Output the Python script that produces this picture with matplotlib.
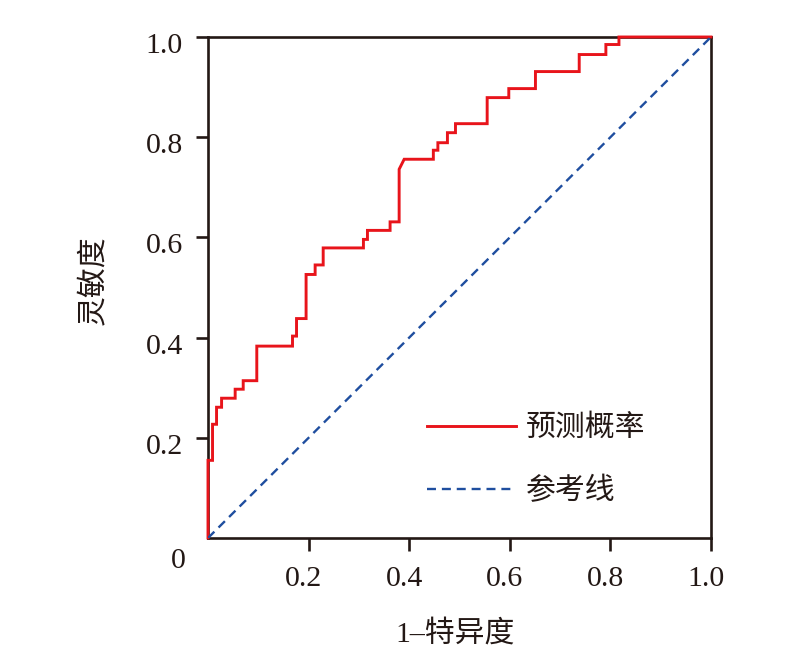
import matplotlib
matplotlib.use("Agg")
import matplotlib.pyplot as plt
import matplotlib.transforms as mtransforms

# ROC curve points (1-specificity, sensitivity)
fpr = [0.000, 0.000, 0.009, 0.009, 0.017, 0.017, 0.027, 0.027, 0.054, 0.054,
       0.070, 0.070, 0.097, 0.097, 0.168, 0.168, 0.176, 0.176, 0.195, 0.195,
       0.213, 0.213, 0.229, 0.229, 0.309, 0.309, 0.317, 0.317, 0.362, 0.362,
       0.380, 0.380, 0.390, 0.448, 0.448, 0.457, 0.457, 0.476, 0.476, 0.492,
       0.492, 0.555, 0.555, 0.598, 0.598, 0.651, 0.651, 0.738, 0.738, 0.791,
       0.791, 0.817, 0.817, 1.000]
tpr = [0.000, 0.155, 0.155, 0.227, 0.227, 0.261, 0.261, 0.279, 0.279, 0.297,
       0.297, 0.314, 0.314, 0.383, 0.383, 0.403, 0.403, 0.438, 0.438, 0.526,
       0.526, 0.545, 0.545, 0.579, 0.579, 0.596, 0.596, 0.614, 0.614, 0.631,
       0.631, 0.736, 0.756, 0.756, 0.774, 0.774, 0.789, 0.789, 0.809, 0.809,
       0.827, 0.827, 0.879, 0.879, 0.897, 0.897, 0.931, 0.931, 0.965, 0.965,
       0.985, 0.985, 1.000, 1.000]
ref_x = [0.0, 1.0]
ref_y = [0.0, 1.0]
ticks = [0.2, 0.4, 0.6, 0.8, 1.0]
tick_labels = ["0.2", "0.4", "0.6", "0.8", "1.0"]
series_names = ["预测概率", "参考线"]
x_title = "1–特异度"
y_title = "灵敏度"

serif = ["Liberation Serif", "Noto Sans CJK SC"]
cjk = ["Noto Sans CJK SC", "DejaVu Sans"]
black = "#231815"
red = "#E8141B"
blue = "#1F4E9F"
num_size = 21.5
cjk_size = 21.5

fig = plt.figure(figsize=(7.89, 6.60), dpi=100)
ax = fig.add_axes([208/789, 1-538/660, (711-208)/789, (538-37)/660])

ax.plot(fpr, tpr, color=red, lw=2.1, label=series_names[0], solid_joinstyle="miter",
        zorder=3, clip_on=False)
ax.plot(ref_x, ref_y, color=blue, lw=1.7, linestyle=(0, (3.8, 2.5)), label=series_names[1],
        zorder=3)

ax.set_xlim(0, 1)
ax.set_ylim(0, 1)
for s in ax.spines.values():
    s.set_color(black)
    s.set_linewidth(1.9)
ax.set_xticks(ticks)
ax.set_yticks(ticks)
ax.set_xticklabels(tick_labels, fontfamily=serif, fontsize=num_size, color=black)
ax.set_yticklabels(tick_labels, fontfamily=serif, fontsize=num_size, color=black)
ax.tick_params(axis="x", direction="out", length=9, width=1.9, color=black, pad=11)
ax.tick_params(axis="y", direction="out", length=9, width=1.9, color=black, pad=9)

# small offsets like the reference (x labels a bit left, y labels a bit lower)
dx = mtransforms.ScaledTranslation(-5/100, 0, fig.dpi_scale_trans)
for lab in ax.get_xticklabels():
    lab.set_transform(lab.get_transform() + dx)
dy = mtransforms.ScaledTranslation(0, -6/100, fig.dpi_scale_trans)
for lab in ax.get_yticklabels():
    lab.set_transform(lab.get_transform() + dy)

fig.text(178/789, 1-561/660, "0", ha="center", va="center",
         fontfamily=serif, fontsize=num_size, color=black)

fig.text(455/789, 1-634/660, x_title, ha="center", va="center",
         fontfamily=serif, fontsize=cjk_size, color=black)
fig.text(93/789, 1-280/660, y_title, ha="center", va="center", rotation=90,
         fontfamily=cjk, fontsize=cjk_size, color=black)

leg = ax.legend(loc="center left", bbox_to_anchor=(0.435, 0.157), frameon=False,
                prop={"family": cjk, "size": cjk_size}, handlelength=3.0,
                handletextpad=0.33, labelspacing=1.08, borderpad=0, borderaxespad=0)
for t in leg.get_texts():
    t.set_color(black)

fig.savefig("out.png", dpi=100)
